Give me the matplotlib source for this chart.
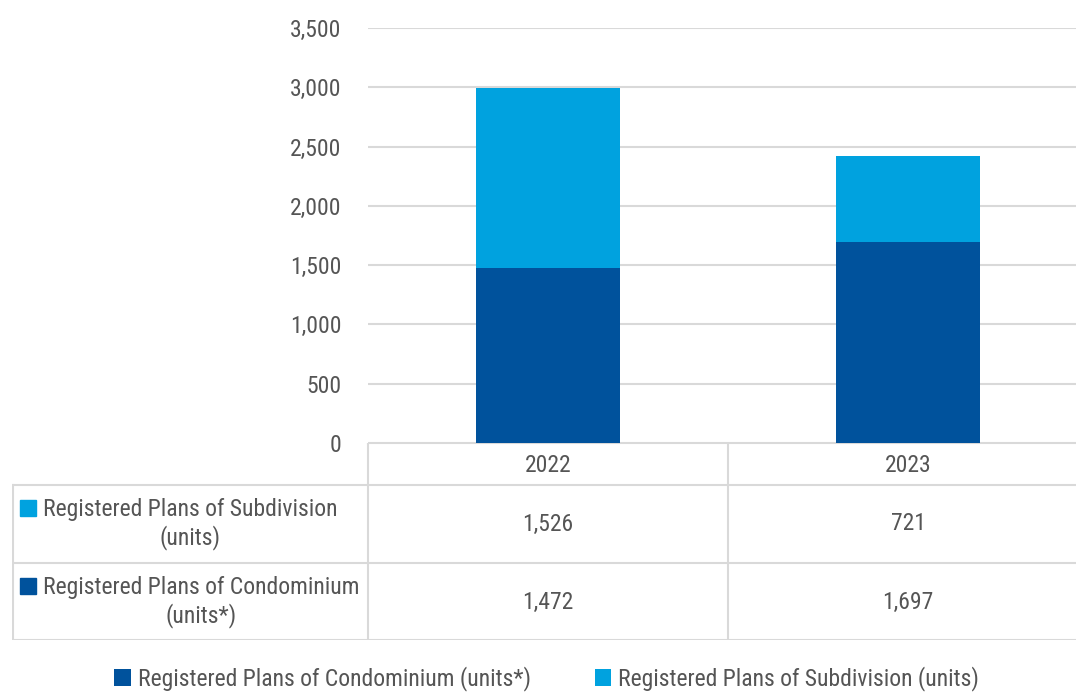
"""Stacked bar of registered plans with a data table underneath"""

import matplotlib
matplotlib.use("Agg")
import matplotlib.pyplot as plt
from matplotlib.patches import Rectangle

years = ["2022", "2023"]
condo_units = [1472, 1697]
subdiv_units = [1526, 721]
condo_label = "Registered Plans of Condominium (units*)"
subdiv_label = "Registered Plans of Subdivision (units)"
row_labels = ["Registered Plans of Subdivision\n(units)",
              "Registered Plans of Condominium\n(units*)"]
yticks = [0, 500, 1000, 1500, 2000, 2500, 3000, 3500]

DARK = "#00529C"
LIGHT = "#00A2DF"
TXT = "#555555"
GRID = "#D9D9D9"

plt.rcParams['font.family'] = ['Roboto Condensed', 'DejaVu Sans']
FS = 17

W, H = 1076, 692
fig = plt.figure(figsize=(W / 100, H / 100), dpi=100)

# chart area (pixel layout from the reference)
ax = fig.add_axes([368 / W, (H - 443) / H, 720 / W, 415 / H])
x = list(range(len(years)))
ax.bar(x, condo_units, width=0.4, color=DARK, label=condo_label, zorder=3)
ax.bar(x, subdiv_units, width=0.4, bottom=condo_units, color=LIGHT,
       label=subdiv_label, zorder=3)
ax.set_xlim(-0.5, 1.5)
ax.set_ylim(0, 3500)
ax.set_yticks(yticks)
ax.set_yticklabels([f"{v:,}" for v in yticks])
ax.tick_params(axis='y', length=0, pad=19, labelsize=FS, labelcolor=TXT)
ax.set_xticks([])
ax.grid(axis='y', color=GRID, linewidth=1.5, zorder=0)
for s in ax.spines.values():
    s.set_visible(False)

# data table under the chart
tab = fig.add_axes([12 / W, (H - 640) / H, 1076 / W, 197 / H])
left = -0.5 - 356 / 360
tab.set_xlim(left, 1.5)
tab.set_ylim(197, 0)
tab.axis('off')
lw = 1.5
tab.plot([-0.5, 1.5], [0, 0], color=GRID, lw=lw)
for yy in (42, 119.5, 197):
    tab.plot([left, 1.5], [yy, yy], color=GRID, lw=lw)
tab.plot([-0.5, -0.5], [0, 197], color=GRID, lw=lw)
tab.plot([0.5, 0.5], [0, 197], color=GRID, lw=lw)
tab.plot([left + 0.003, left + 0.003], [42, 197], color=GRID, lw=lw)

for i, yr in enumerate(years):
    tab.text(i, 22, yr, ha='center', va='center', fontsize=FS, color=TXT)
    tab.text(i, 81, f"{subdiv_units[i]:,}", ha='center', va='center',
             fontsize=FS, color=TXT)
    tab.text(i, 159, f"{condo_units[i]:,}", ha='center', va='center',
             fontsize=FS, color=TXT)

label_x = (43 - 548) / 360
for (yc, lab, col) in [(81, row_labels[0], LIGHT), (159, row_labels[1], DARK)]:
    tab.text(label_x, yc, lab, ha='left', va='center', multialignment='center',
             fontsize=FS, color=TXT, linespacing=1.25)
    tab.add_patch(Rectangle(((20 - 368) / 360 - 0.5, yc - 24), 16 / 360, 16,
                            color=col, clip_on=False))

# legend at the bottom
fig.legend(loc='center', bbox_to_anchor=(0.508, 1 - 679 / H), ncol=2,
           frameon=False, fontsize=FS, labelcolor=TXT, handlelength=0.7,
           handleheight=0.7, handletextpad=0.3, columnspacing=2.7)

fig.savefig("out.png", dpi=100, facecolor="white")
